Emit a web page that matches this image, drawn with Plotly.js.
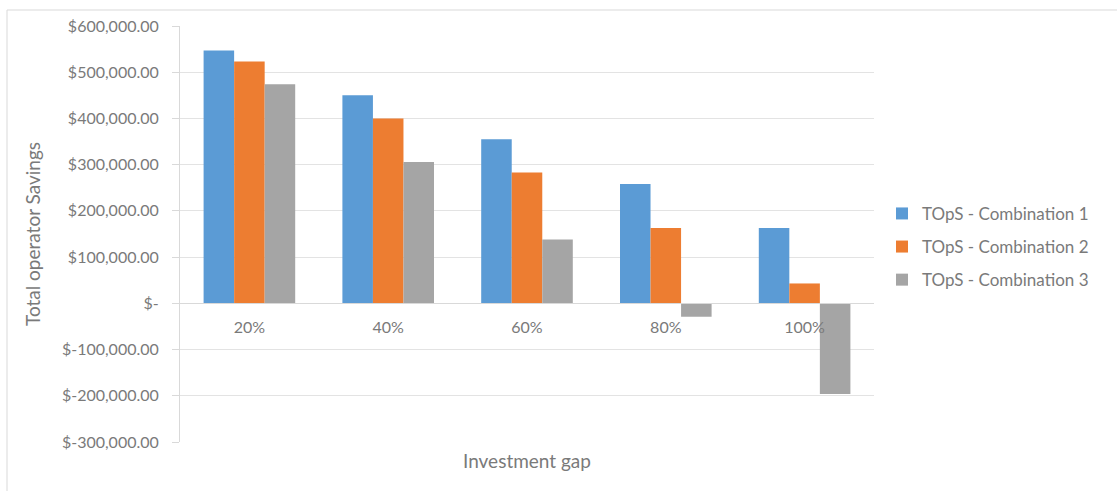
<!DOCTYPE html>
<html>
<head>
<meta charset="utf-8">
<script src="https://cdn.plot.ly/plotly-3.0.1.min.js"></script>
<style>html,body{margin:0;padding:0;background:#fff;}#chart{width:1117px;height:491px;}</style>
</head>
<body>
<div id="chart"></div>
<script>
const categories = ["20%", "40%", "60%", "80%", "100%"];
const seriesNames = ["TOpS - Combination 1", "TOpS - Combination 2", "TOpS - Combination 3"];
const combo1 = [547000, 450000, 355000, 258000, 163000];
const combo2 = [523000, 400000, 283000, 163000, 43000];
const combo3 = [474000, 306000, 138000, -29000, -196000];
const yTickVals = [600000, 500000, 400000, 300000, 200000, 100000, 0, -100000, -200000, -300000];
const yTickText = ["$600,000.00", "$500,000.00", "$400,000.00", "$300,000.00", "$200,000.00", "$100,000.00", "$-", "$-100,000.00", "$-200,000.00", "$-300,000.00"];
const colors = ["#5b9bd5", "#ed7d31", "#a5a5a5"];

const yMin = -300000, yMax = 600000;
const fam = "Lato, 'Open Sans', sans-serif";
const grey = "#7a7a7a";

const traces = [combo1, combo2, combo3].map((vals, i) => ({
  type: "bar",
  name: seriesNames[i],
  x: categories,
  y: vals,
  marker: {color: colors[i]},
  legendgroup: "g" + i,
  hoverinfo: "x+y+name"
}));

const layout = {
  width: 1117, height: 491,
  margin: {l: 180, r: 243, t: 26, b: 49},
  paper_bgcolor: "#ffffff",
  plot_bgcolor: "#ffffff",
  font: {family: fam, color: grey, size: 16},
  barmode: "group",
  bargap: 0.34,
  bargroupgap: 0,
  xaxis: {
    type: "category",
    anchor: "free",
    position: (0 - yMin) / (yMax - yMin),
    showline: true, linecolor: "#d9d9d9", linewidth: 1,
    showgrid: false, zeroline: false,
    ticks: "",
    ticklabelstandoff: 9,
    tickfont: {family: fam, color: grey, size: 16}
  },
  yaxis: {
    range: [yMin, yMax],
    tickvals: yTickVals,
    ticktext: yTickText,
    showgrid: true, gridcolor: "#e3e3e3", gridwidth: 1,
    zeroline: false,
    showline: true, linecolor: "#d9d9d9", linewidth: 1,
    ticks: "outside", ticklen: 7, tickcolor: "#d9d9d9",
    ticklabelstandoff: 10,
    tickfont: {family: fam, color: grey, size: 16},
    title: {text: "Total operator Savings", font: {family: fam, color: grey, size: 19}, standoff: 16}
  },
  legend: {
    x: 1.0115, y: 0.469, xanchor: "left", yanchor: "middle",
    traceorder: "grouped", tracegroupgap: 8,
    font: {family: fam, color: grey, size: 17},
    itemwidth: 30,
    bgcolor: "rgba(0,0,0,0)"
  },
  annotations: [{
    text: "Investment gap", xref: "paper", yref: "paper", x: 0.5, y: 0,
    xanchor: "center", yanchor: "middle", yshift: -18, showarrow: false,
    font: {family: fam, color: grey, size: 19}
  }],
  shapes: [{
    type: "rect", xref: "paper", yref: "paper",
    x0: (7 - 180) / 694, x1: (1130 - 180) / 694,
    y0: (442 - 500) / 416, y1: (442 - 10) / 416,
    line: {color: "#d9d9d9", width: 1}, fillcolor: "rgba(0,0,0,0)", layer: "below"
  }]
};

Plotly.newPlot("chart", traces, layout, {displayModeBar: false, staticPlot: true});
</script>
</body>
</html>
